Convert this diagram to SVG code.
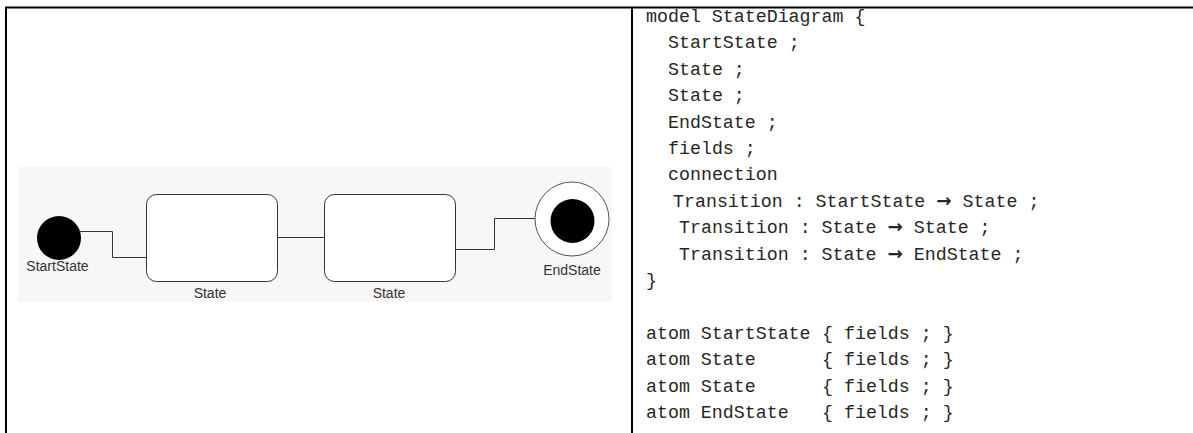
<svg xmlns="http://www.w3.org/2000/svg" width="1193" height="433" viewBox="0 0 1193 433">
<style>
.frame{stroke:#000;fill:none}
.lbl{font-family:"Liberation Sans",Arial,sans-serif;font-size:14px;fill:#333}
.code text{font-family:"Liberation Mono","Courier New",monospace;font-size:18.3px;fill:#262626}
.arr{font-family:"DejaVu Sans",sans-serif;font-weight:bold}
.box{fill:#fff;stroke:#333;stroke-width:1}
.conn{fill:none;stroke:#333;stroke-width:1}
</style>
<rect x="0" y="0" width="1193" height="433" fill="#fff"/>
<rect x="18" y="167" width="594" height="135" fill="#f7f7f7"/>
<g id="table">
<line class="frame" x1="5" y1="7.5" x2="1193" y2="7.5" stroke-width="2"/>
<line class="frame" x1="6" y1="7" x2="6" y2="433" stroke-width="2"/>
<line class="frame" x1="632" y1="7" x2="632" y2="433" stroke-width="2"/>
</g>
<g id="connectors">
<polyline class="conn" points="80,231.5 112.5,231.5 112.5,257.5 146,257.5"/>
<line class="conn" x1="277" y1="237.5" x2="324" y2="237.5"/>
<polyline class="conn" points="455,249.5 494.5,249.5 494.5,218.5 535,218.5"/>
</g>
<g id="start">
<circle cx="59" cy="238" r="22" fill="#000"/>
<text class="lbl" x="57.5" y="271" text-anchor="middle">StartState</text>
</g>
<g id="state1">
<rect class="box" x="146.5" y="194.5" width="131" height="87" rx="10"/>
<text class="lbl" x="210" y="298" text-anchor="middle">State</text>
</g>
<g id="state2">
<rect class="box" x="324.5" y="194.5" width="131" height="87" rx="10"/>
<text class="lbl" x="389" y="298" text-anchor="middle">State</text>
</g>
<g id="end">
<circle cx="572" cy="219" r="37" fill="#fff" stroke="#555" stroke-width="1"/>
<circle cx="572.5" cy="221" r="22" fill="#000"/>
<text class="lbl" x="572" y="275" text-anchor="middle">EndState</text>
</g>
<g id="code" class="code">
<text x="646" y="22">model StateDiagram {</text>
<text x="668" y="48.4">StartState ;</text>
<text x="668" y="74.8">State ;</text>
<text x="668" y="101.2">State ;</text>
<text x="668" y="127.6">EndState ;</text>
<text x="668" y="154">fields ;</text>
<text x="668" y="180.4">connection</text>
<text x="673" y="206.8">Transition : StartState <tspan class="arr">→</tspan> State ;</text>
<text x="679" y="233.2">Transition : State <tspan class="arr">→</tspan> State ;</text>
<text x="679" y="259.6">Transition : State <tspan class="arr">→</tspan> EndState ;</text>
<text x="646" y="286">}</text>
<text x="646" y="338.8">atom StartState</text><text x="822" y="338.8">{ fields ; }</text>
<text x="646" y="365.2">atom State</text><text x="822" y="365.2">{ fields ; }</text>
<text x="646" y="391.6">atom State</text><text x="822" y="391.6">{ fields ; }</text>
<text x="646" y="418">atom EndState</text><text x="822" y="418">{ fields ; }</text>
</g>
</svg>
